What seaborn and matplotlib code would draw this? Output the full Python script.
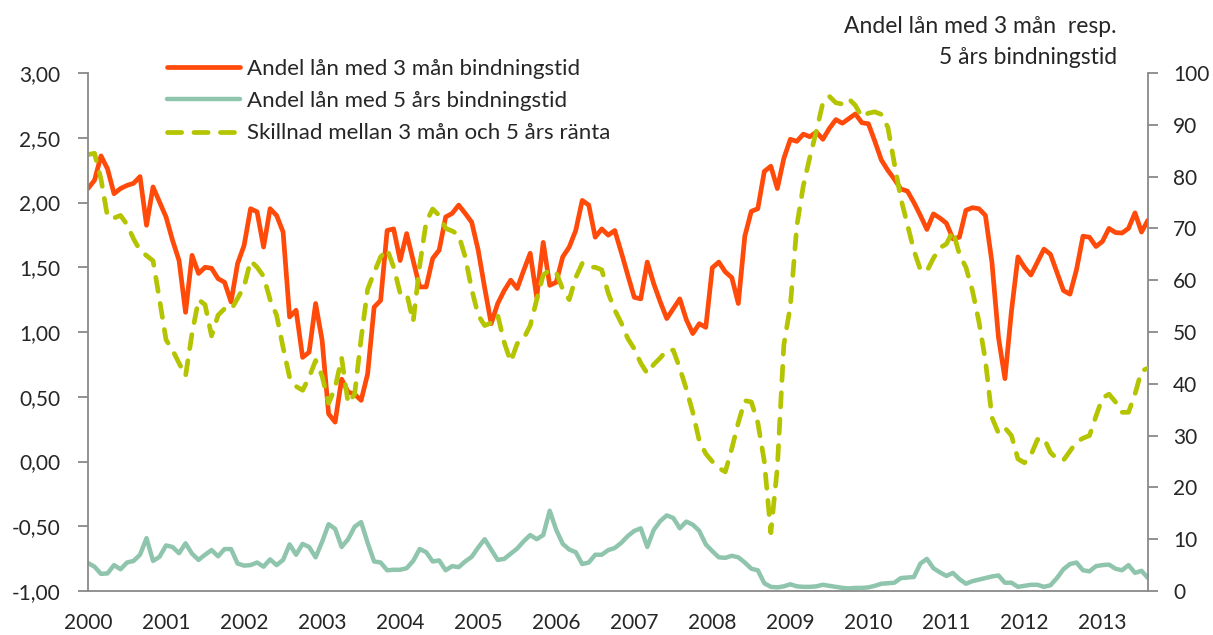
import numpy as np
import pandas as pd
import matplotlib
matplotlib.use("Agg")
import matplotlib.pyplot as plt
from matplotlib.ticker import FuncFormatter
import seaborn as sns

# Monthly data, Jan 2000 - Aug 2013
start_year = 2000

# Andel lån med 3 mån bindningstid (%, right axis)
andel_3man = [
    77.7, 79.3, 84.0, 81.5, 76.7, 77.7, 78.3, 78.7, 80.0, 70.6, 78.0, 75.1,   # 2000
    72.2, 67.7, 63.8, 53.8, 64.8, 61.3, 62.5, 62.3, 60.3, 59.6, 55.8, 63.2,   # 2001
    66.7, 73.8, 73.2, 66.4, 73.8, 72.5, 69.3, 52.9, 54.2, 45.1, 46.1, 55.5,   # 2002
    48.4, 34.2, 32.6, 40.9, 38.4, 38.0, 36.8, 41.9, 54.8, 56.1, 69.6, 69.9,   # 2003
    63.8, 69.0, 63.8, 58.7, 58.7, 64.2, 65.8, 72.2, 72.9, 74.5, 72.9, 71.2,   # 2004
    65.8, 58.5, 51.6, 55.5, 58.0, 60.0, 58.4, 61.9, 65.2, 56.7, 67.3, 59.0,   # 2005
    59.6, 64.5, 66.4, 69.6, 75.4, 74.5, 68.3, 69.9, 68.7, 69.6, 65.4, 61.0,   # 2006
    56.7, 56.4, 63.5, 59.3, 55.8, 52.6, 54.5, 56.4, 52.4, 49.7, 51.6, 50.9,   # 2007
    62.4, 63.5, 61.6, 60.5, 55.5, 68.5, 73.3, 73.8, 81.0, 82.0, 77.7, 83.5,   # 2008
    87.2, 86.8, 88.2, 87.7, 88.6, 87.2, 89.3, 91.0, 90.3, 91.2, 92.1, 90.4,   # 2009
    90.2, 86.8, 83.2, 81.2, 79.5, 77.6, 77.2, 75.0, 72.5, 69.8, 72.8, 72.0,   # 2010
    71.0, 68.0, 68.3, 73.5, 74.0, 73.8, 72.5, 63.5, 49.0, 41.0, 54.0, 64.5,   # 2011
    62.5, 61.0, 63.5, 66.0, 65.0, 61.5, 58.0, 57.3, 62.0, 68.5, 68.3, 66.5,   # 2012
    67.5, 70.0, 69.2, 69.1, 70.0, 73.0, 69.3, 71.6,                           # 2013
]

# Andel lån med 5 års bindningstid (%, right axis)
andel_5ar = [
    5.4, 4.7, 3.3, 3.4, 5.0, 4.2, 5.5, 5.8, 7.0, 10.2, 5.8, 6.6,
    8.8, 8.5, 7.3, 9.2, 7.2, 6.0, 7.0, 7.9, 6.7, 8.1, 8.1, 5.3,
    4.9, 5.0, 5.5, 4.7, 6.1, 5.0, 6.0, 9.0, 7.0, 9.1, 8.5, 6.5,
    9.5, 12.9, 12.0, 8.5, 10.0, 12.4, 13.3, 9.3, 5.7, 5.5, 4.0, 4.1,
    4.1, 4.4, 5.8, 8.1, 7.5, 5.7, 5.9, 4.0, 4.8, 4.6, 5.7, 6.6,
    8.4, 10.0, 8.0, 6.0, 6.2, 7.2, 8.2, 9.6, 10.8, 10.0, 10.8, 15.5,
    11.8, 9.1, 8.0, 7.5, 5.2, 5.5, 7.0, 7.0, 7.9, 8.3, 9.3, 10.6,
    11.6, 12.1, 8.5, 11.8, 13.5, 14.6, 14.1, 12.1, 13.4, 12.8, 11.6, 9.0,
    7.7, 6.5, 6.4, 6.8, 6.5, 5.5, 4.3, 4.0, 1.5, 0.8, 0.7, 0.9,
    1.3, 0.9, 0.8, 0.8, 0.9, 1.2, 1.0, 0.8, 0.6, 0.5, 0.6, 0.6,
    0.7, 1.0, 1.4, 1.5, 1.6, 2.5, 2.6, 2.7, 5.3, 6.2, 4.4, 3.6,
    2.9, 3.5, 2.3, 1.4, 1.9, 2.2, 2.5, 2.8, 3.0, 1.6, 1.6, 0.8,
    1.0, 1.2, 1.2, 0.8, 1.1, 2.5, 4.2, 5.2, 5.5, 4.0, 3.8, 4.8,
    5.0, 5.1, 4.3, 4.0, 5.0, 3.5, 3.9, 2.5,
]

# Skillnad mellan 3 mån och 5 års ränta (procentenheter, left axis)
skillnad = [
    2.37, 2.38, 2.18, 1.89, 1.88, 1.90, 1.83, 1.72, 1.63, 1.59, 1.55, 1.25,
    0.94, 0.86, 0.76, 0.66, 0.99, 1.25, 1.21, 0.97, 1.13, 1.18, 1.17, 1.26,
    1.35, 1.55, 1.50, 1.43, 1.25, 1.13, 0.88, 0.65, 0.58, 0.55, 0.65, 0.78,
    0.66, 0.45, 0.57, 0.80, 0.45, 0.52, 0.95, 1.33, 1.46, 1.58, 1.64, 1.50,
    1.30, 1.30, 1.08, 1.51, 1.85, 1.95, 1.90, 1.80, 1.78, 1.75, 1.58, 1.33,
    1.13, 1.05, 1.07, 1.13, 0.92, 0.77, 0.91, 0.95, 1.05, 1.25, 1.44, 1.48,
    1.46, 1.33, 1.25, 1.42, 1.53, 1.50, 1.50, 1.48, 1.30, 1.17, 1.07, 0.95,
    0.87, 0.76, 0.68, 0.75, 0.80, 0.86, 0.86, 0.72, 0.56, 0.38, 0.16, 0.06,
    0.00, -0.05, -0.08, 0.10, 0.30, 0.47, 0.46, 0.30, 0.00, -0.55, -0.05, 0.90,
    1.20, 1.82, 2.13, 2.35, 2.55, 2.77, 2.82, 2.77, 2.76, 2.80, 2.75, 2.66,
    2.69, 2.70, 2.68, 2.58, 2.30, 2.03, 1.83, 1.63, 1.48, 1.47, 1.57, 1.65,
    1.68, 1.78, 1.60, 1.50, 1.32, 1.08, 0.78, 0.34, 0.22, 0.26, 0.20, 0.02,
    -0.01, 0.05, 0.17, 0.18, 0.07, 0.02, 0.01, 0.08, 0.15, 0.18, 0.20, 0.35,
    0.49, 0.52, 0.46, 0.38, 0.38, 0.52, 0.70, 0.72,
]

label_3man = "Andel lån med 3 mån bindningstid"
label_5ar = "Andel lån med 5 års bindningstid"
label_skillnad = "Skillnad mellan 3 mån och 5 års ränta"
right_title = "Andel lån med 3 mån  resp.\n5 års bindningstid"

year_ticks = list(range(2000, 2014))
left_ticks = [-1.0, -0.5, 0.0, 0.5, 1.0, 1.5, 2.0, 2.5, 3.0]
right_ticks = list(range(0, 101, 10))

df = pd.DataFrame({"3man": andel_3man, "5ar": andel_5ar, "skillnad": skillnad})
df["tid"] = start_year + np.arange(len(df)) / 12

sns.set_style("white")
plt.rcParams["font.family"] = ["Lato", "DejaVu Sans"]
plt.rcParams["font.size"] = 15

ORANGE = "#FF4A0A"
TEAL = "#8FC4AD"
LIME = "#B5C400"
GREY = "#898989"

fig = plt.figure(figsize=(12.13, 6.35), dpi=100)
ax = fig.add_axes([88 / 1213, 1 - 591 / 635, (1148 - 88) / 1213, (591 - 73) / 635])
ax2 = ax.twinx()

# shares on the right axis
sns.lineplot(data=df, x="tid", y="3man", ax=ax2, color=ORANGE, lw=3.4,
             label=label_3man, solid_joinstyle="round", legend=False)
sns.lineplot(data=df, x="tid", y="5ar", ax=ax2, color=TEAL, lw=3.2,
             label=label_5ar, solid_joinstyle="round", legend=False)
# rate spread on the left axis
sns.lineplot(data=df, x="tid", y="skillnad", ax=ax, color=LIME, lw=3.4,
             linestyle=(0, (3, 2.6)), dash_capstyle="round",
             label=label_skillnad, legend=False)

ax.set_zorder(ax2.get_zorder() + 1)
ax.patch.set_visible(False)

ax.set_xlim(start_year, df["tid"].iloc[-1])
ax.set_ylim(-1, 3)
ax2.set_ylim(0, 100)
ax.set_xticks(year_ticks)
ax.set_xticklabels([str(y) for y in year_ticks])
ax.set_yticks(left_ticks)
ax.yaxis.set_major_formatter(FuncFormatter(lambda v, p: f"{v:.2f}".replace(".", ",")))
ax2.set_yticks(right_ticks)
for a in (ax, ax2):
    a.set_xlabel("")
    a.set_ylabel("")
    a.grid(False)
    for s in a.spines.values():
        s.set_color(GREY)
        s.set_linewidth(1.3)
    a.spines["top"].set_visible(False)
ax.spines["right"].set_visible(False)
ax2.spines["left"].set_visible(False)
ax2.spines["bottom"].set_visible(False)

ax.tick_params(axis="x", direction="out", length=7, width=1.3, color=GREY, pad=9, labelsize=15)
ax.tick_params(axis="y", direction="out", length=7, width=1.3, color=GREY, pad=13, labelsize=15)
ax2.tick_params(axis="y", direction="out", length=7, width=1.3, color=GREY, pad=11, labelsize=15)

handles = ax2.get_lines()[:2] + ax.get_lines()[:1]
fig.legend(handles, [label_3man, label_5ar, label_skillnad], loc="upper left",
           bbox_to_anchor=(158 / 1213, 1 - 50 / 635), frameon=False, fontsize=16,
           handlelength=3.3, handletextpad=0.3, labelspacing=0.55, borderaxespad=0)

fig.text(1117 / 1213, 1 - 16 / 635, right_title, ha="right", va="top",
         multialignment="right", fontsize=16.5, linespacing=1.6)

fig.savefig("out.png", dpi=100)
